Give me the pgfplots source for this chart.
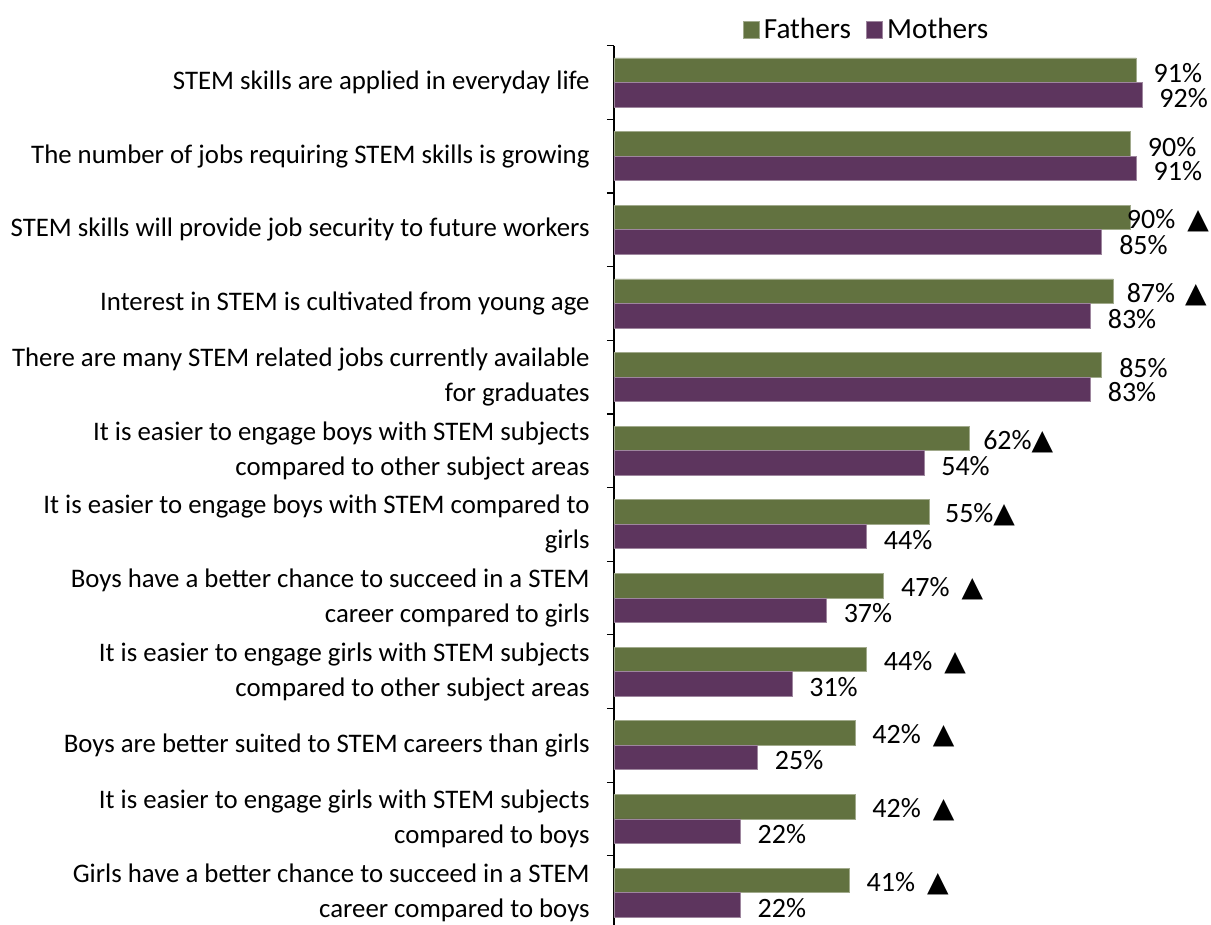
\documentclass[border=0pt]{standalone}
\usepackage{fontspec}
\setmainfont{Carlito}
\newfontfamily\dejavu{DejaVu Sans}
\usepackage{pgfplots}
\pgfplotsset{compat=1.18}
\definecolor{fathers}{RGB}{98,114,64}
\definecolor{mothers}{RGB}{93,53,94}
\newcommand{\tri}{{\dejavu ▲}}
\newcommand{\gap}{\hspace{6pt}}
\pgfplotsset{sq/.style={legend image code/.code={\fill[##1] (0pt,-4.2pt) rectangle (8.2pt,4.2pt);}}}

\begin{document}
\begin{tikzpicture}[font=\fontsize{13.4}{17.5}\selectfont]
\begin{axis}[
  scale only axis, width=287pt, height=441.85pt,
  xbar, bar width=0.333,
  xmin=0, xmax=100, ymin=-0.5, ymax=11.5, y dir=reverse,
  axis x line=none, axis y line*=left,
  ytick={0,...,11},
  yticklabels={
    {STEM skills are applied in everyday life},
    {The number of jobs requiring STEM skills is growing},
    {STEM skills will provide job security to future workers},
    {Interest in STEM is cultivated from young age},
    {There are many STEM related jobs currently available\\for graduates},
    {It is easier to engage boys with STEM subjects\\compared to other subject areas},
    {It is easier to engage boys with STEM compared to\\girls},
    {Boys have a better chance to succeed in a STEM\\career compared to girls},
    {It is easier to engage girls with STEM subjects\\compared to other subject areas},
    {Boys are better suited to STEM careers than girls},
    {It is easier to engage girls with STEM subjects\\compared to boys},
    {Girls have a better chance to succeed in a STEM\\career compared to boys}},
  major tick length=0pt,
  minor ytick={-0.5,0.5,...,11.5}, minor tick length=3.5pt, tick align=outside,
  tick style={black, line width=0.6pt},
  y axis line style={black, line width=0.6pt},
  yticklabel style={align=right, inner sep=0pt, xshift=-12pt},
  clip=false,
  nodes near coords, point meta=explicit symbolic,
  every node near coord/.append style={anchor=west, inner sep=0pt, xshift=8.5pt,
    yshift=-1.5pt, black, font=\fontsize{14}{16}\selectfont},
  legend style={at={(0.2235,1)}, anchor=west, yshift=8pt, draw=none, fill=none,
    inner sep=0pt, legend columns=-1, font=\fontsize{14.6}{16}\selectfont,
    /tikz/every even column/.append style={column sep=5.5pt}},
]
\coordinate (tr) at (axis cs:100,-0.5);
\coordinate (bl) at (axis cs:0,11.5);
\addplot[fill=fathers, draw=fathers!60!white, line width=0.4pt, bar shift=-0.1665, sq] coordinates {
  (91,0) [91\%] (90,1) [90\%] (90,2) [\hspace{-10.5pt}90\%\gap\tri] (87,3) [\hspace{-2pt}87\%\hspace{5pt}\tri]
  (85,4) [85\%] (62,5) [\hspace{-2pt}62\%\tri] (55,6) [\hspace{-1pt}55\%\tri]
  (47,7) [47\%\gap\tri] (44,8) [44\%\gap\tri] (42,9) [42\%\gap\tri]
  (42,10) [42\%\gap\tri] (41,11) [41\%\gap\tri]
};
\addlegendentry{Fathers}
\addplot[fill=mothers, draw=mothers!60!white, line width=0.4pt, bar shift=0.1665, sq] coordinates {
  (92,0) [92\%] (91,1) [91\%] (85,2) [85\%] (83,3) [83\%]
  (83,4) [83\%] (54,5) [54\%] (44,6) [44\%]
  (37,7) [37\%] (31,8) [31\%] (25,9) [25\%]
  (22,10) [22\%] (22,11) [22\%]
};
\addlegendentry{Mothers}
\end{axis}
\pgfresetboundingbox
\useasboundingbox ([xshift=-307pt,yshift=2.2pt]bl) rectangle ([xshift=11.5pt,yshift=22.85pt]tr);
\end{tikzpicture}
\end{document}
